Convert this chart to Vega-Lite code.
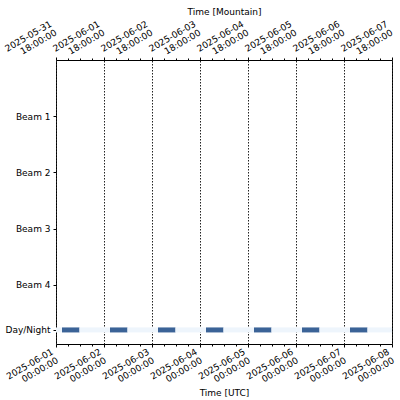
{
  "$schema": "https://vega.github.io/schema/vega-lite/v6.json",
  "width": 336,
  "height": 284,
  "autosize": "none",
  "padding": {"left": 56, "top": 60, "right": 8, "bottom": 56},
  "config": {
    "font": "DejaVu Sans",
    "view": {"stroke": "black", "strokeWidth": 1},
    "axis": {
      "labelFont": "DejaVu Sans",
      "titleFont": "DejaVu Sans",
      "labelFontSize": 9,
      "titleFontSize": 9,
      "titleFontWeight": "normal",
      "labelColor": "black",
      "titleColor": "black",
      "tickColor": "black",
      "domain": false,
      "grid": false
    }
  },
  "data": {
    "values": [
      {"start": "2025-06-01T00:00:00Z", "end": "2025-06-01T03:00:00Z", "state": "day"},
      {"start": "2025-06-01T03:00:00Z", "end": "2025-06-01T11:45:00Z", "state": "night"},
      {"start": "2025-06-01T11:45:00Z", "end": "2025-06-02T03:00:00Z", "state": "day"},
      {"start": "2025-06-02T03:00:00Z", "end": "2025-06-02T11:45:00Z", "state": "night"},
      {"start": "2025-06-02T11:45:00Z", "end": "2025-06-03T03:00:00Z", "state": "day"},
      {"start": "2025-06-03T03:00:00Z", "end": "2025-06-03T11:45:00Z", "state": "night"},
      {"start": "2025-06-03T11:45:00Z", "end": "2025-06-04T03:00:00Z", "state": "day"},
      {"start": "2025-06-04T03:00:00Z", "end": "2025-06-04T11:45:00Z", "state": "night"},
      {"start": "2025-06-04T11:45:00Z", "end": "2025-06-05T03:00:00Z", "state": "day"},
      {"start": "2025-06-05T03:00:00Z", "end": "2025-06-05T11:45:00Z", "state": "night"},
      {"start": "2025-06-05T11:45:00Z", "end": "2025-06-06T03:00:00Z", "state": "day"},
      {"start": "2025-06-06T03:00:00Z", "end": "2025-06-06T11:45:00Z", "state": "night"},
      {"start": "2025-06-06T11:45:00Z", "end": "2025-06-07T03:00:00Z", "state": "day"},
      {"start": "2025-06-07T03:00:00Z", "end": "2025-06-07T11:45:00Z", "state": "night"},
      {"start": "2025-06-07T11:45:00Z", "end": "2025-06-08T00:00:00Z", "state": "day"}
    ]
  },
  "resolve": {"axis": {"x": "independent"}},
  "layer": [
    {
      "mark": {"type": "rule", "strokeWidth": 5, "strokeCap": "butt"},
      "encoding": {
        "x": {
          "field": "start",
          "type": "temporal",
          "scale": {"type": "utc", "domain": [1748736000000, 1749340800000]},
          "axis": {
            "orient": "bottom",
            "title": "Time [UTC]",
            "titleY": 48,
            "titleBaseline": "middle",
            "values": [1748736000000, 1748757600000, 1748779200000, 1748800800000, 1748822400000, 1748844000000, 1748865600000, 1748887200000, 1748908800000, 1748930400000, 1748952000000, 1748973600000, 1748995200000, 1749016800000, 1749038400000, 1749060000000, 1749081600000, 1749103200000, 1749124800000, 1749146400000, 1749168000000, 1749189600000, 1749211200000, 1749232800000, 1749254400000, 1749276000000, 1749297600000, 1749319200000, 1749340800000],
            "labelExpr": "utchours(datum.value) == 0 ? [utcFormat(datum.value, '%Y-%m-%d'), utcFormat(datum.value, '%H:%M:%S')] : ''",
            "labelAngle": -30,
            "labelAlign": "right",
            "labelBaseline": "top",
            "labelLineHeight": 10,
            "labelPadding": 0,
            "labelOffset": -6,
            "tickSize": {"condition": {"test": "utchours(datum.value) == 0", "value": 3}, "value": 2},
            "labelOverlap": false,
            "labelFlush": false,
            "grid": true,
            "gridColor": "#222",
            "gridDash": [1.5, 1.5],
            "gridWidth": 1,
            "gridOpacity": {"condition": {"test": "utchours(datum.value) == 0", "value": 1}, "value": 0}
          }
        },
        "x2": {"field": "end"},
        "y": {
          "datum": 4.8,
          "type": "quantitative",
          "scale": {"domain": [0, 5.05], "reverse": true, "nice": false, "zero": false},
          "axis": {
            "title": null,
            "values": [1, 2, 3, 4, 4.8],
            "labelExpr": "datum.value < 4.5 ? 'Beam ' + datum.value : 'Day/Night'",
            "tickSize": 3,
            "labelPadding": 3
          }
        },
        "color": {
          "field": "state",
          "type": "nominal",
          "scale": {"domain": ["day", "night"], "range": ["#eef5fc", "#3b6397"]},
          "legend": null
        }
      }
    },
    {
      "mark": {"type": "rule", "opacity": 0},
      "encoding": {
        "x": {
          "field": "start",
          "type": "temporal",
          "axis": {
            "orient": "top",
            "title": "Time [Mountain]",
            "titleY": -49,
            "titleBaseline": "middle",
            "values": [1748736000000, 1748757600000, 1748779200000, 1748800800000, 1748822400000, 1748844000000, 1748865600000, 1748887200000, 1748908800000, 1748930400000, 1748952000000, 1748973600000, 1748995200000, 1749016800000, 1749038400000, 1749060000000, 1749081600000, 1749103200000, 1749124800000, 1749146400000, 1749168000000, 1749189600000, 1749211200000, 1749232800000, 1749254400000, 1749276000000, 1749297600000, 1749319200000, 1749340800000],
            "labelExpr": "utchours(datum.value) == 0 ? [utcFormat(datum.value - 21600000, '%Y-%m-%d'), utcFormat(datum.value - 21600000, '%H:%M:%S')] : ''",
            "labelAngle": -30,
            "labelAlign": "right",
            "labelBaseline": "bottom",
            "labelLineHeight": 10,
            "labelPadding": 30,
            "labelOffset": -3,
            "tickSize": {"condition": {"test": "utchours(datum.value) == 0", "value": 3}, "value": 2},
            "labelOverlap": false,
            "labelFlush": false
          }
        }
      }
    }
  ]
}
